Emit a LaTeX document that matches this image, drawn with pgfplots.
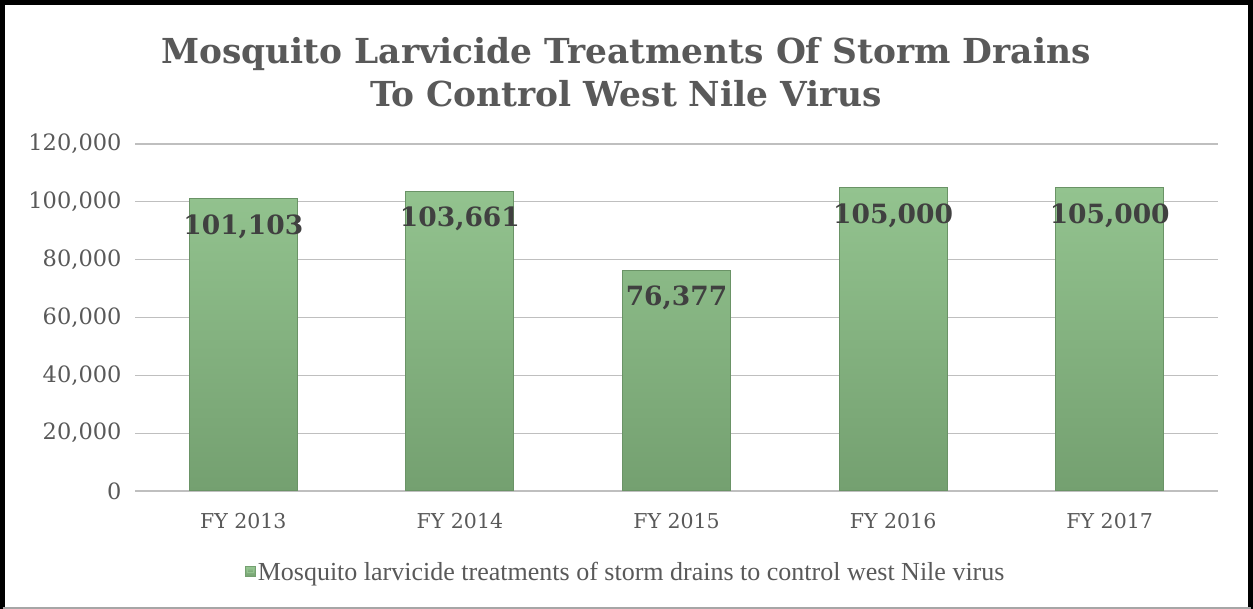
\documentclass[border=0pt]{standalone}
\usepackage{pgfplots}
\pgfplotsset{compat=1.18}
\usepackage{fontspec}
\setmainfont{DejaVu Serif}
\newfontfamily\legfont{Liberation Serif}
\definecolor{txt}{HTML}{595959}
\definecolor{lbl}{HTML}{404040}
\definecolor{grid}{HTML}{D9D9D9}
\definecolor{bartop}{HTML}{93C38F}
\definecolor{barbot}{HTML}{74A070}
\definecolor{baredge}{HTML}{6A9366}
\begin{document}
\begin{tikzpicture}[x=1pt,y=1pt]
\path[use as bounding box] (0,0) rectangle (1253,609);
\fill[white] (0,0) rectangle (1253,609);
\begin{axis}[
  at={(135pt,118pt)}, anchor=south west,
  scale only axis, width=1083pt, height=347pt,
  ybar, bar width=108pt,
  xmin=-0.5, xmax=4.5, ymin=0, ymax=120000,
  xtick=data, xticklabels={FY 2013,FY 2014,FY 2015,FY 2016,FY 2017},
  ytick={0,20000,40000,60000,80000,100000,120000},
  scaled y ticks=false,
  /pgf/number format/.cd, fixed, 1000 sep={,}, assume math mode=true, /pgfplots/.cd,
  ymajorgrids, xmajorgrids=false, grid style={grid, line width=1.3pt},
  axis line style={draw=none},
  xtick style={draw=none}, ytick style={draw=none},
  tick label style={text=txt},
  yticklabel style={font=\fontsize{22.5}{26}\selectfont, xshift=-10pt},
  xticklabel style={font=\fontsize{20.5}{24}\selectfont, yshift=-14pt},
  nodes near coords={\pgfmathprintnumber[fixed,precision=0,1000 sep={,}]{\pgfplotspointmeta}},
  every node near coord/.append style={font=\bfseries\fontsize{26.5}{30}\selectfont, text=lbl, anchor=center, yshift=-28pt},
  legend style={at={(0.453,-0.233)}, anchor=center, draw=none, fill=none, font=\legfont\fontsize{26}{30}\selectfont, text=txt},
  legend image code/.code={\fill[barbot] (0pt,-5pt) rectangle (10pt,5pt); \fill[bartop] (2pt,-1pt) rectangle (8pt,4pt);},
  legend cell align=left,
]
\addplot[top color=bartop, bottom color=barbot, draw=baredge, line width=1pt]
  coordinates {(0,101103) (1,103661) (2,76377) (3,105000) (4,105000)};
\addlegendentry{Mosquito larvicide treatments of storm drains to control west Nile virus}
\end{axis}
\node[align=center, font=\bfseries\fontsize{34.4}{43}\selectfont, text=txt] at (626,537)
  {Mosquito Larvicide Treatments Of Storm Drains\\To Control West Nile Virus};
\draw[black, line width=5pt] (2.5,0) -- (2.5,606.5) -- (1250.5,606.5) -- (1250.5,0);
\draw[gray!70, line width=1.5pt] (2.5,1) -- (1250.5,1);
\end{tikzpicture}
\end{document}
